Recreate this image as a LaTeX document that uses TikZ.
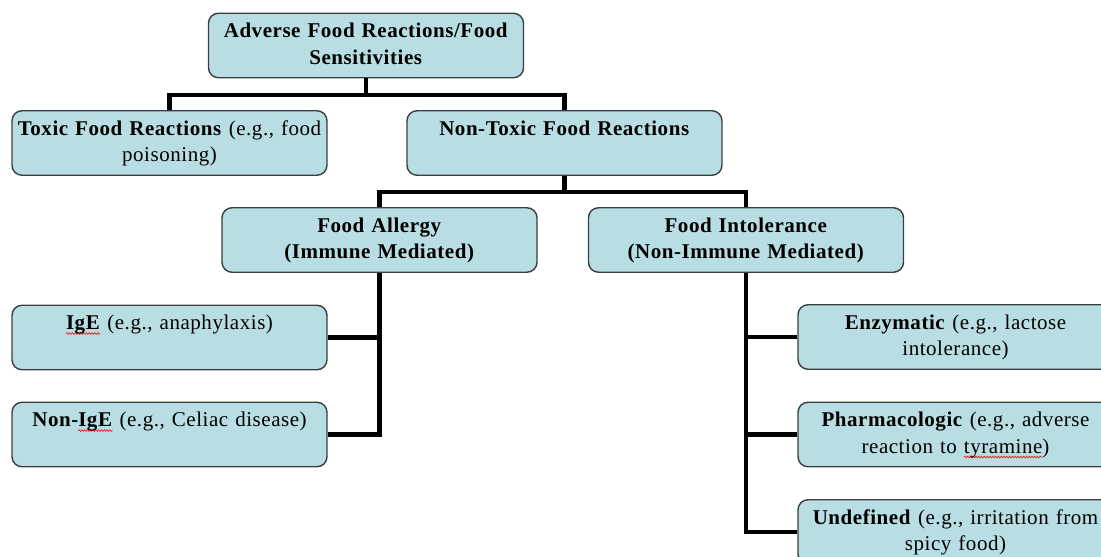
\documentclass[tikz,border=0pt]{standalone}
\usepackage{fontspec}
\setmainfont{Liberation Serif}[LetterSpace=2.6]
\usetikzlibrary{decorations.pathmorphing}
\definecolor{boxfill}{RGB}{184,222,228}
\definecolor{boxline}{RGB}{58,62,64}
\newcommand\fs{\fontsize{21}{26.5}\selectfont}
\newsavebox\sqbox
\newlength\sqlen
\tikzset{
  box/.style={draw=boxline, line width=1.4pt, fill=boxfill, rounded corners=10pt,
    minimum width=315pt, minimum height=64.5pt, inner sep=0pt, text width=313pt,
    align=center, font=\fs},
  conn/.style={line width=4.8pt, draw=black},
  squig/.style={draw=red, sharp corners, line width=0.55pt, decorate,
    decoration={snake, amplitude=0.9pt, segment length=2.8pt}},
}
\newcommand\sqw[1]{\sbox\sqbox{#1}\setlength\sqlen{\wd\sqbox}\rlap{\tikz[overlay,baseline=0pt]\path[squig](0pt,-4pt)--(\sqlen,-4pt);}\usebox\sqbox}
\begin{document}
\begin{tikzpicture}[x=1pt,y=-1pt]
\useasboundingbox (0,0) rectangle (1101,557);
% boxes
\node[box] (top) at (366,45.5) {\strut\textbf{Adverse Food Reactions/Food}\\\strut\textbf{Sensitivities}};
\node[box] (toxic) at (169.5,143) {\strut\textbf{Toxic Food Reactions} (e.g., food\\\strut poisoning)};
\node[box] (nontoxic) at (564.5,143) {\strut\textbf{Non-Toxic Food Reactions}\\\strut};
\node[box] (allergy) at (379.5,240) {\strut\textbf{Food Allergy}\\\strut\textbf{(Immune Mediated)}};
\node[box] (intol) at (746,240) {\strut\textbf{Food Intolerance}\\\strut\textbf{(Non-Immune Mediated)}};
\node[box] (ige) at (169.5,337.5) {\strut\sqw{\textbf{IgE}} (e.g., anaphylaxis)\\\strut};
\node[box] (nonige) at (169.5,434.5) {\strut\textbf{Non-}\sqw{\textbf{IgE}} (e.g., Celiac disease)\\\strut};
\node[box] (enz) at (955.5,337) {\strut\textbf{Enzymatic} (e.g., lactose\\\strut intolerance)};
\node[box] (pharm) at (955.5,434.5) {\strut\textbf{Pharmacologic} (e.g., adverse\\\strut reaction to \sqw{tyramine})};
\node[box] (undef) at (955.5,532) {\strut\textbf{Undefined} (e.g., irritation from\\\strut spicy food)};
% bus coordinates
\coordinate (b1) at (366,95);
\coordinate (b2) at (564.5,192);
% connectors
\draw[conn] (top.south) -- (top.south |- b1);
\draw[conn] (toxic.north) |- (b1) -| (nontoxic.north);
\draw[conn] (nontoxic.south) -- (nontoxic.south |- b2);
\draw[conn] (allergy.north) |- (b2) -| (intol.north);
\draw[conn] (allergy.south) |- (ige.east);
\draw[conn] (allergy.south) |- (nonige.east);
\draw[conn] (intol.south) |- (enz.west);
\draw[conn] (intol.south) |- (pharm.west);
\draw[conn] (intol.south) |- (undef.west);
\end{tikzpicture}
\end{document}
